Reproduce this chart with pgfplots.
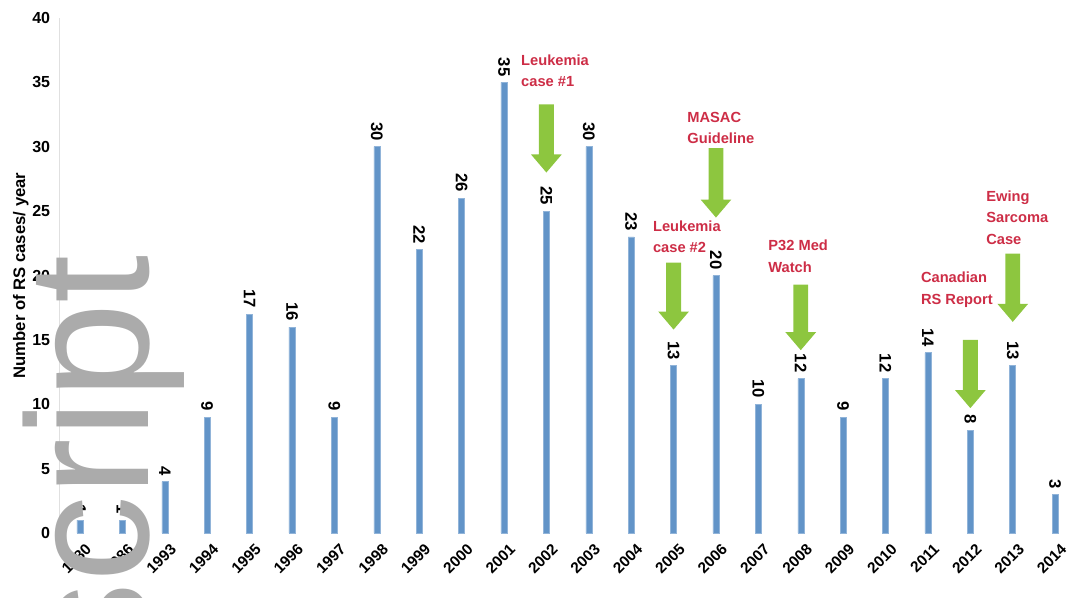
\documentclass[border=0pt]{standalone}
\usepackage{fontspec}
\setmainfont{Liberation Sans}
\usepackage{pgfplots}
\pgfplotsset{compat=1.18}
\definecolor{barblue}{RGB}{98,148,200}
\definecolor{arrowgreen}{RGB}{141,198,63}
\definecolor{annred}{RGB}{205,45,70}
\newcommand{\garrow}[3]{%
  \fill[arrowgreen] ([xshift=-5.6pt]axis cs:#1,#2) -- ([xshift=5.6pt]axis cs:#1,#2)
  -- ([xshift=5.6pt,yshift=13.5pt]axis cs:#1,#3) -- ([xshift=11.5pt,yshift=13.5pt]axis cs:#1,#3)
  -- (axis cs:#1,#3) -- ([xshift=-11.5pt,yshift=13.5pt]axis cs:#1,#3)
  -- ([xshift=-5.6pt,yshift=13.5pt]axis cs:#1,#3) -- cycle;}
\begin{document}
\begin{tikzpicture}
\begin{axis}[
  name=ax, at={(0,0)}, anchor=south west,
  width=756.8pt, height=386.25pt, scale only axis,
  xmin=-0.5, xmax=23.3, ymin=0, ymax=40,
  axis lines=left, axis line style={-},
  x axis line style={draw=none},
  y axis line style={draw=black!12},
  major tick length=0pt,
  xtick={0,...,23},
  xticklabels={1980,1986,1993,1994,1995,1996,1997,1998,1999,2000,2001,2002,2003,2004,2005,2006,2007,2008,2009,2010,2011,2012,2013,2014},
  xticklabel style={rotate=45, anchor=north east, font=\bfseries\fontsize{11.5}{14}\selectfont, xshift=1pt, yshift=-4pt},
  ytick={0,5,...,40},
  yticklabel style={font=\bfseries\fontsize{12}{14}\selectfont, xshift=-3pt},
  /pgf/number format/assume math mode=true,
  ylabel={Number of RS cases/ year},
  ylabel style={font=\bfseries\fontsize{12.5}{14}\selectfont, yshift=-4pt},
  ybar, bar width=4.5pt,
  nodes near coords,
  every node near coord/.append style={rotate=-90, anchor=east, font=\bfseries\fontsize{12.5}{14}\selectfont, xshift=-1pt},
  clip=false,
]
\addplot[fill=barblue, draw=barblue!70] coordinates {
(0,1) (1,1) (2,4) (3,9) (4,17) (5,16) (6,9) (7,30) (8,22) (9,26) (10,35) (11,25)
(12,30) (13,23) (14,13) (15,20) (16,10) (17,12) (18,9) (19,12) (20,14) (21,8) (22,13) (23,3)};
\garrow{11}{33.3}{28.0}
\garrow{15}{29.9}{24.5}
\garrow{14}{21.0}{15.8}
\garrow{17}{19.3}{14.2}
\garrow{21}{15.0}{9.7}
\garrow{22}{21.7}{16.4}
\begin{scope}[every node/.style={text=annred, font=\bfseries\fontsize{11}{16}\selectfont, align=left, anchor=west, inner sep=0pt}]
\node at (axis cs:10.4,35.9) {Leukemia\\case \#1};
\node at (axis cs:14.32,31.45) {MASAC\\Guideline};
\node at (axis cs:13.51,23.0) {Leukemia\\case \#2};
\node at (axis cs:16.23,21.5) {P32 Med\\Watch};
\node at (axis cs:19.83,18.9) {Canadian\\RS Report};
\node at (axis cs:21.37,24.5) {Ewing\\Sarcoma\\Case};
\end{scope}
\end{axis}
\node[rotate=90, anchor=base east, inner sep=0pt, text=black!33, font=\fontsize{130}{130}\selectfont] at ([xshift=66.9pt,yshift=208.5pt]ax.south west) {script};
\pgfresetboundingbox
\path[use as bounding box] ([xshift=-44.1pt,yshift=-48pt]ax.south west) rectangle ([xshift=758.4pt,yshift=399.75pt]ax.south west);
\end{tikzpicture}
\end{document}
